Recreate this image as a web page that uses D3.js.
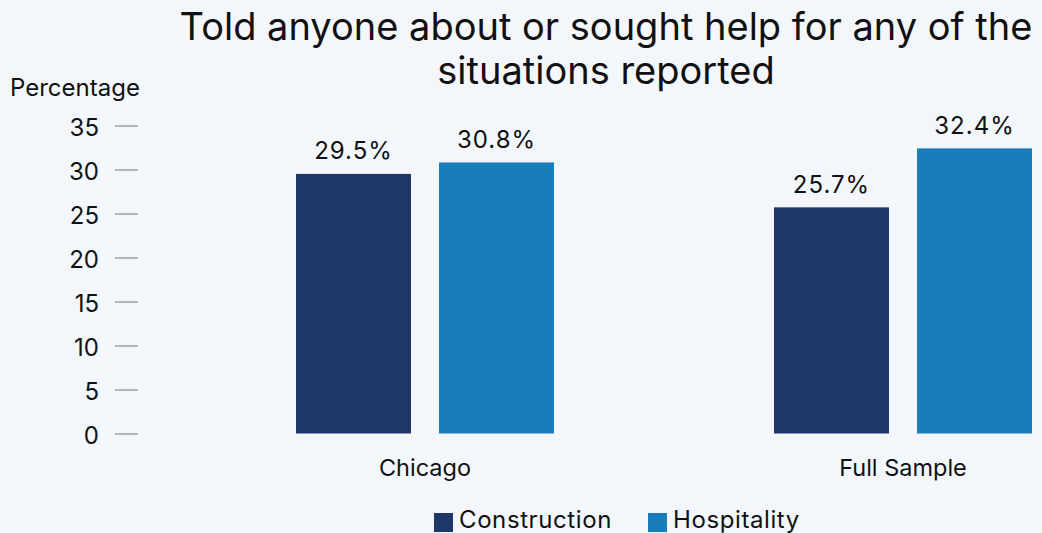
<!DOCTYPE html>
<html>
<head>
<meta charset="utf-8">
<script src="https://cdn.jsdelivr.net/npm/d3@7"></script>
<style>
  html, body { margin: 0; padding: 0; background: #f3f7fb; }
  svg { display: block; font-family: Inter, "Noto Sans", sans-serif; }
</style>
</head>
<body>
<div id="chart"></div>
<script>
// data
var categories = ["Chicago", "Full Sample"];
var seriesNames = ["Construction", "Hospitality"];
var construction = [29.5, 25.7];
var hospitality = [30.8, 32.4];
var yTicks = [0, 5, 10, 15, 20, 25, 30, 35];
var colours = ["#1f3768", "#187db8"];

var width = 1042, height = 533;

var svg = d3.select("#chart").append("svg")
  .attr("width", width)
  .attr("height", height);

svg.append("rect").attr("width", width).attr("height", height).attr("fill", "#f3f7fb");

// scales
var y = d3.scaleLinear().domain([0, 35]).range([433.5, 125.5]);
var x0 = d3.scaleBand().domain(categories).range([186, 1142]).padding(0);
var x1 = d3.scaleBand().domain(seriesNames)
  .range([(x0.bandwidth() - 258) / 2, (x0.bandwidth() + 258) / 2])
  .paddingInner(0.196).paddingOuter(0);

// title
var title = svg.append("text")
  .attr("text-anchor", "middle")
  .attr("font-size", 38)
  .attr("fill", "#111");
title.append("tspan").attr("x", 606).attr("y", 40).text("Told anyone about or sought help for any of the");
title.append("tspan").attr("x", 606).attr("y", 84).text("situations reported");

// y axis label
svg.append("text")
  .attr("x", 10).attr("y", 96)
  .attr("font-size", 24)
  .attr("fill", "#111")
  .text("Percentage");

// y axis
var yAxis = svg.append("g")
  .attr("transform", "translate(138,0)")
  .call(d3.axisLeft(y).tickValues(yTicks).tickSize(23).tickPadding(16));
yAxis.select(".domain").remove();
yAxis.selectAll(".tick line").attr("stroke", "#777").attr("stroke-width", 1);
yAxis.selectAll(".tick text")
  .attr("font-size", 24)
  .attr("dy", "0.42em")
  .attr("font-family", "Inter, 'Noto Sans', sans-serif")
  .attr("fill", "#111");

// bars
var rows = categories.map(function (c, i) {
  return { cat: c, values: [construction[i], hospitality[i]] };
});

var groups = svg.selectAll(".grp")
  .data(rows)
  .enter()
  .append("g")
  .attr("class", "grp")
  .attr("transform", function (d) { return "translate(" + x0(d.cat) + ",0)"; });

groups.selectAll("rect")
  .data(function (d) { return d.values.map(function (v, j) { return { name: seriesNames[j], v: v, j: j }; }); })
  .enter()
  .append("rect")
  .attr("x", function (d) { return x1(d.name); })
  .attr("y", function (d) { return y(d.v); })
  .attr("width", x1.bandwidth())
  .attr("height", function (d) { return y(0) - y(d.v); })
  .attr("fill", function (d) { return colours[d.j]; });

groups.selectAll(".val")
  .data(function (d) { return d.values.map(function (v, j) { return { name: seriesNames[j], v: v }; }); })
  .enter()
  .append("text")
  .attr("class", "val")
  .attr("text-anchor", "middle")
  .attr("x", function (d) { return x1(d.name) + x1.bandwidth() / 2; })
  .attr("y", function (d) { return y(d.v) - 14.5; })
  .attr("font-size", 24)
  .attr("letter-spacing", 1)
  .attr("fill", "#111")
  .text(function (d) { return d.v.toFixed(1) + "%"; });

// category labels
svg.selectAll(".cat")
  .data(categories)
  .enter()
  .append("text")
  .attr("class", "cat")
  .attr("text-anchor", "middle")
  .attr("x", function (d) { return x0(d) + x0.bandwidth() / 2; })
  .attr("y", 476)
  .attr("font-size", 23.5)
  .attr("fill", "#111")
  .text(function (d) { return d; });

// legend
var legendX = [434, 648];
var legend = svg.selectAll(".leg")
  .data(seriesNames)
  .enter()
  .append("g")
  .attr("class", "leg")
  .attr("transform", function (d, i) { return "translate(" + legendX[i] + ",513)"; });
legend.append("rect").attr("width", 19).attr("height", 19)
  .attr("fill", function (d, i) { return colours[i]; });
legend.append("text").attr("x", 25).attr("y", 15)
  .attr("font-size", 24)
  .attr("letter-spacing", 0.6)
  .attr("fill", "#111")
  .text(function (d) { return d; });
</script>
</body>
</html>
